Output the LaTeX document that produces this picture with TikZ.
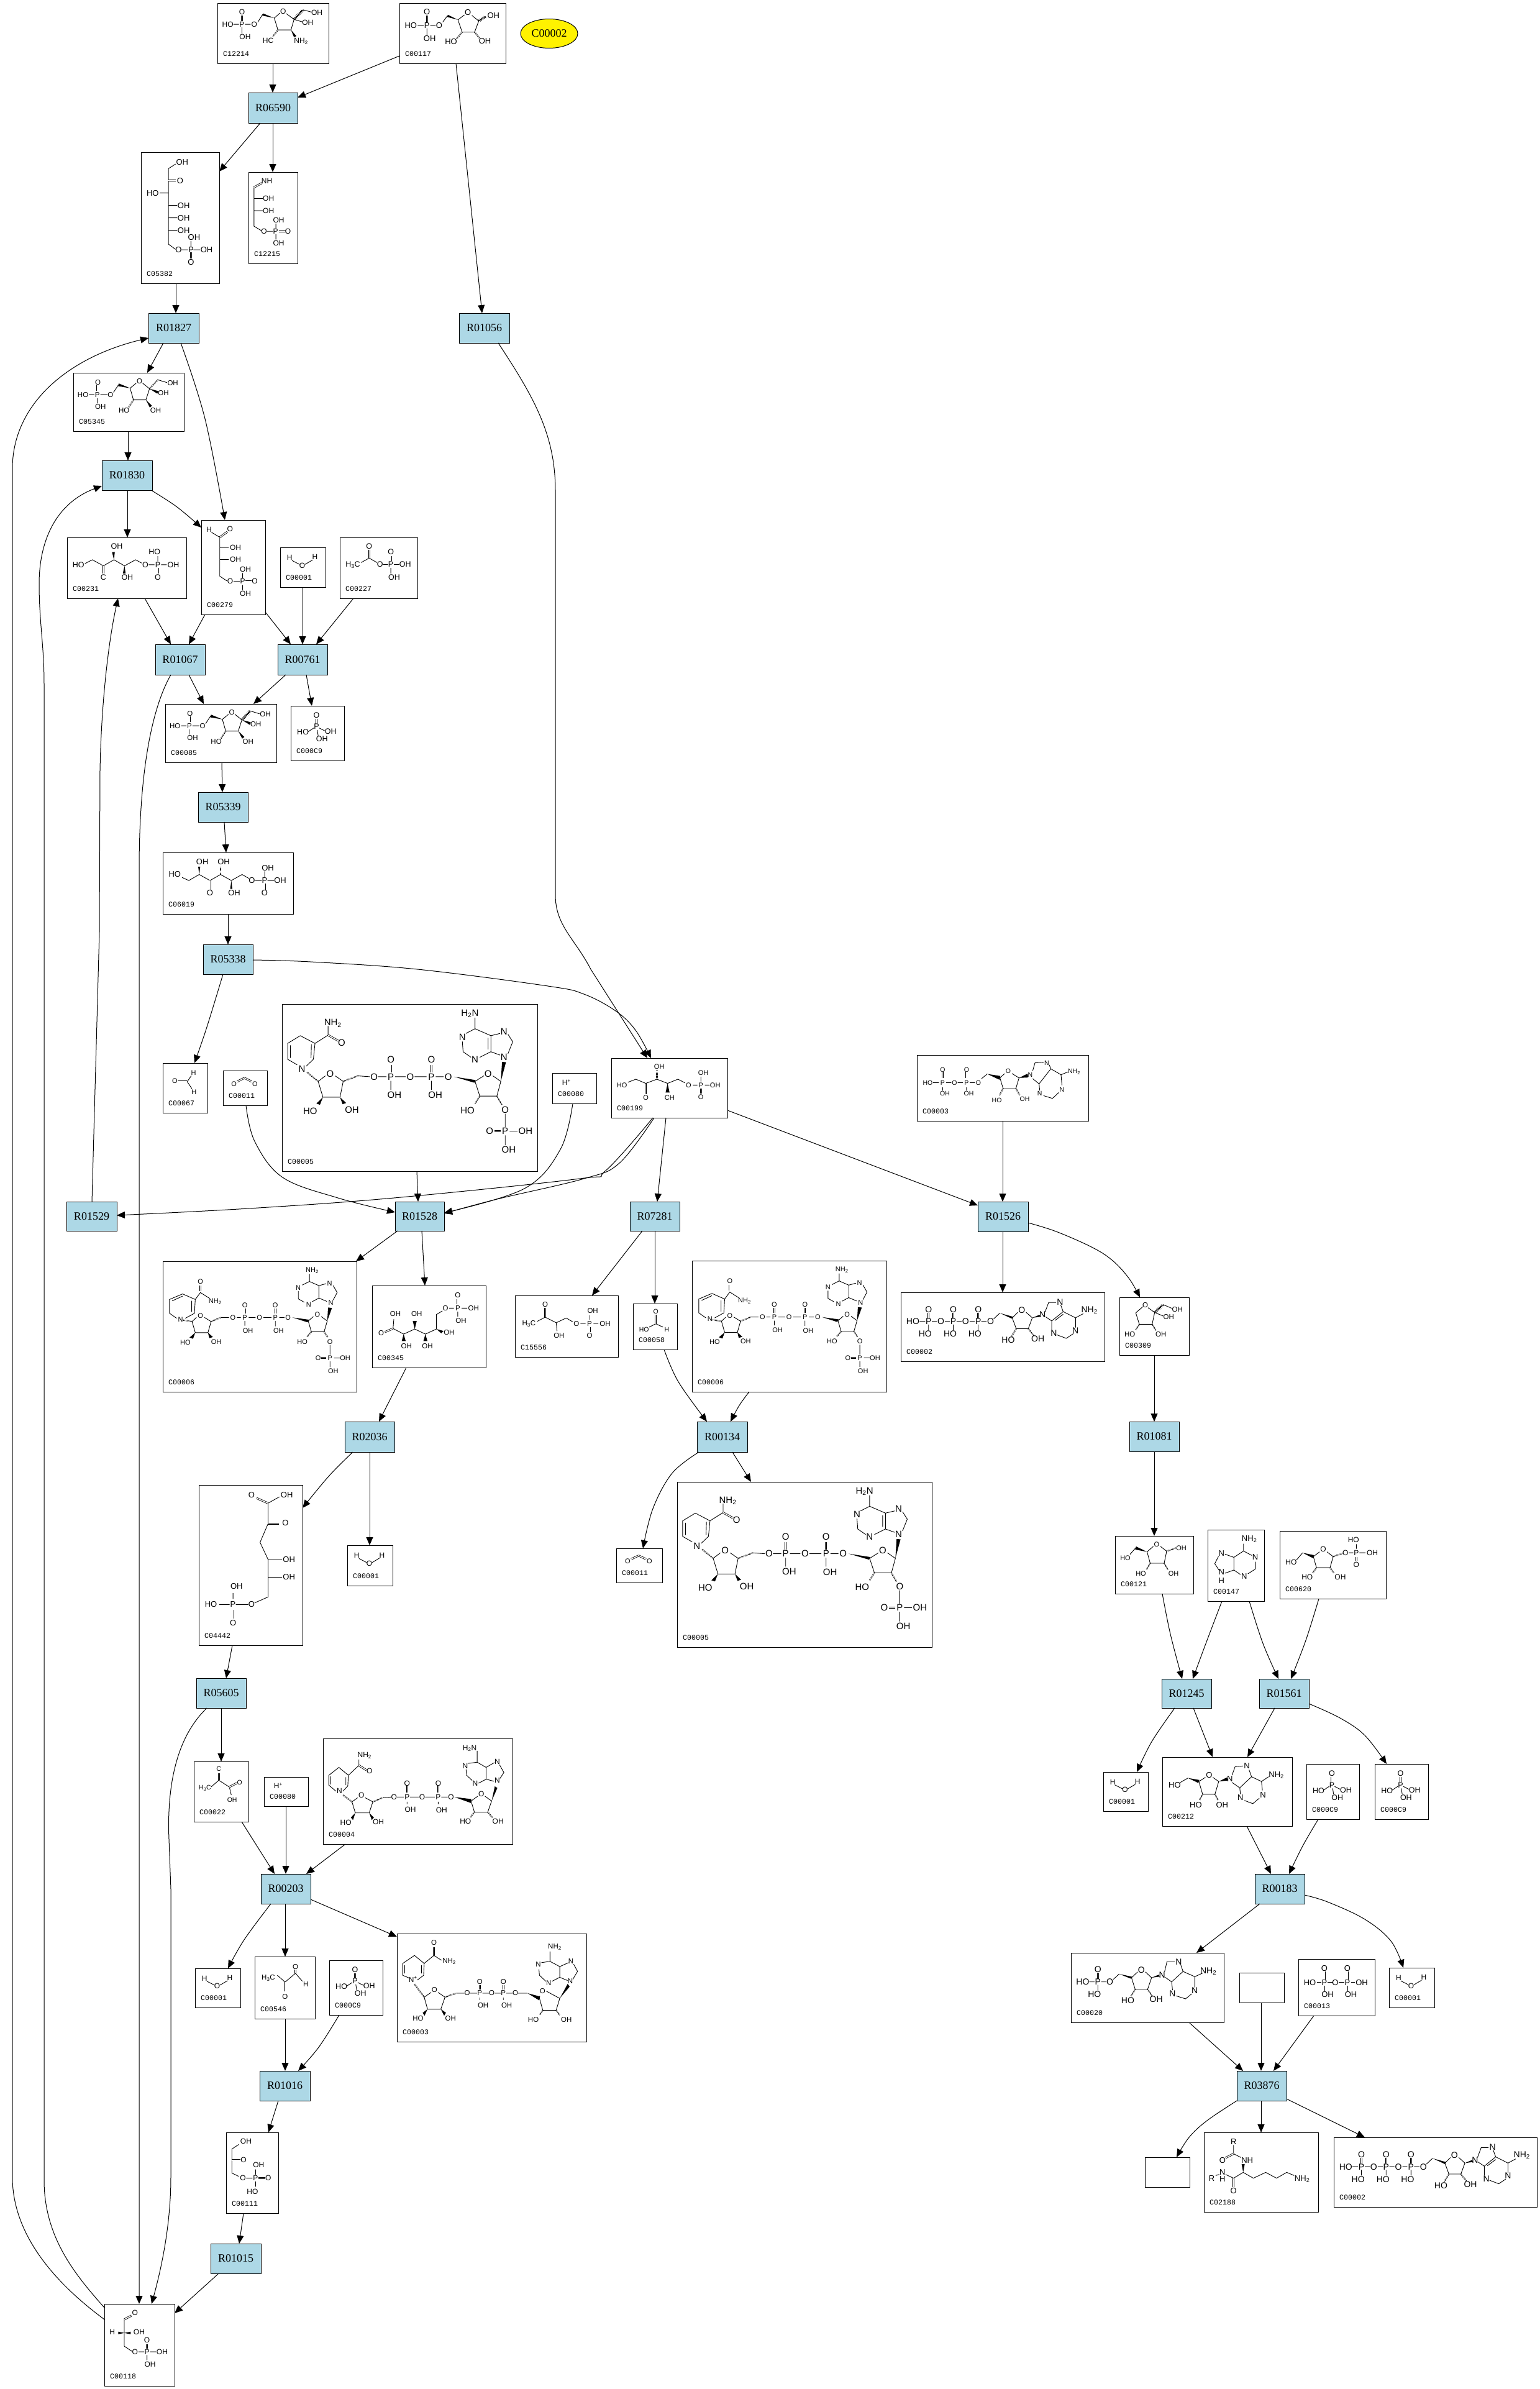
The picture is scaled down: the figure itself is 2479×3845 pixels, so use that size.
\documentclass[tikz,border=0pt]{standalone}
\usepackage{fontspec}
\setmainfont{Liberation Serif}
\newfontfamily\af{Liberation Sans}
\newfontfamily\lf{Liberation Mono}
\usetikzlibrary{arrows.meta,calc,shapes.geometric,decorations.pathmorphing}
\definecolor{lblue}{HTML}{ADD8E6}
\def\asz{12}
\newcounter{atm}
\tikzset{
 rx/.style={draw=black,fill=lblue,line width=1pt,inner sep=0pt,outer sep=0pt,font=\fontsize{18}{18}\selectfont},
 cbox/.style={draw=black,fill=white,line width=1pt,inner sep=0pt,outer sep=0pt},
 clab/.style={inner sep=0pt,font=\lf\fontsize{11.6}{12}\selectfont},
 atom/.style={inner sep=0.2pt,font=\af\fontsize{\asz}{\asz}\selectfont},
 bond/.style={line width=.9pt},
 dbond/.style={line width=.8pt,double,double distance=1.4pt},
 hashw/.style={line width=2.2pt,dash pattern=on .8pt off 1.1pt},
 wavy/.style={line width=.8pt,decorate,decoration={zigzag,segment length=2.6pt,amplitude=1.6pt}},
 edge/.style={line width=1pt,-{Triangle[length=13pt,width=11pt]}}
}
\newcommand\Rx[5]{\pgfmathsetmacro\cxx{(#2+#4)/2}\pgfmathsetmacro\cyy{(#3+#5)/2}\pgfmathsetmacro\bw{#4-#2}\pgfmathsetmacro\bh{#5-#3}\node[rx,minimum width=\bw pt,minimum height=\bh pt] (#1) at (\cxx,\cyy) {#1};}
\newcommand\Cx[6]{\pgfmathsetmacro\cxx{(#2+#4)/2}\pgfmathsetmacro\cyy{(#3+#5)/2}\pgfmathsetmacro\bw{#4-#2}\pgfmathsetmacro\bh{#5-#3}\pgfmathsetmacro\lbx{#2+9}\pgfmathsetmacro\lby{#5-15}\def\bx{#2}\def\by{#3}\node[cbox,minimum width=\bw pt,minimum height=\bh pt] (#1) at (\cxx,\cyy) {};\node[clab,anchor=west] (#1lab) at (\lbx,\lby) {#6};}
\newcommand\Z[6][12]{\def\asz{#1}\pgfmathsetmacro\sx{\bw/(#4-#2)}\pgfmathsetmacro\sy{\bh/(#5-#3)}\begin{scope}[shift={(\bx,\by)},xscale=\sx,yscale=\sy,shift={(-#2,-#3)}]#6\end{scope}}
\newcommand\At[3]{\stepcounter{atm}\node[atom] (at\theatm) at (#1,#2) {#3};}
\newcommand\Bd[1]{\draw[bond] #1;}
\newcommand\Db[4]{\draw[dbond] (#1,#2)--(#3,#4);}
\newcommand\Wg[4]{\fill ($(#1,#2)$) -- ($(#3,#4)!5pt!90:(#1,#2)$) -- ($(#3,#4)!5pt!-90:(#1,#2)$) -- cycle;}
\newcommand\Hs[4]{\draw[hashw] (#1,#2)--(#3,#4);}
\newcommand\Wv[4]{\draw[wavy] (#1,#2)--(#3,#4);}
\newcommand\Cv[1]{\draw[edge] plot[smooth,tension=.6] coordinates {#1};}
\newcommand\Sb[1]{#1\textsubscript{2}}
% shared molecules
\newcommand\WaterM{\Bd{(1053,812)--(1080,826) (1100,826)--(1127,810)}\At{1045}{802}{H}\At{1090}{830}{O}\At{1135}{800}{H}}
\newcommand\PiM{\Db{1142}{1382}{1142}{1400}\Bd{(1112,1428)--(1132,1415) (1152,1415)--(1172,1425) (1145,1422)--(1148,1442)}\At{1142}{1368}{O}\At{1142}{1410}{P}\At{1093}{1430}{HO}\At{1193}{1428}{OH}\At{1162}{1455}{OH}}
\newcommand\COO{\Db{1145}{630}{1180}{615}\Db{1180}{615}{1215}{630}\At{1129}{640}{O}\At{1231}{640}{O}}
\newcommand\HpM{\At{1116}{408}{H\textsuperscript{+}}}
\newcommand\FSP[1]{\Bd{(492,172)--(470,190)--(482,232)--(527,232)--(540,192)--(515,172) (428,178)--(410,205) (388,213)--(363,213) (341,213)--(322,213) (352,226)--(352,245) (570,160)--(603,170)}\Wg{470}{190}{428}{178}\Db{352}{200}{352}{180}#1\Wg{540}{192}{570}{205}\Hs{482}{232}{465}{258}\Wg{527}{232}{545}{256}\At{504}{165}{O}\At{399}{213}{O}\At{352}{213}{P}\At{300}{213}{HO}\At{354}{170}{O}\At{363}{257}{OH}\At{624}{171}{OH}\At{590}{207}{OH}\At{448}{270}{HO}\At{562}{270}{OH}}
\newcommand\NADPH{\Bd{(445,240)--(413,268)--(413,325)--(437,345) (445,240)--(482,268)--(478,325)--(460,350) (420,275)--(420,320) (473,272)--(472,320) (482,268)--(515,238)--(515,205) (508,385)--(490,405)--(502,462)--(545,462)--(553,405)--(533,385) (590,385)--(620,388) (641,388)--(662,388) (684,388)--(710,388) (733,388)--(763,388) (786,388)--(806,388) (673,403)--(673,435) (775,403)--(775,435) (907,385)--(885,405)--(897,458)--(940,458)--(950,405)--(930,385) (961,522)--(961,570) (972,585)--(992,585) (961,600)--(961,635) (885,175)--(885,215) (862,232)--(885,215)--(925,240)--(925,298)--(897,318) (875,318)--(855,298)--(853,260) (925,240)--(948,232) (968,235)--(980,262)--(968,305) (925,298)--(948,310) (918,248)--(918,290)}\Db{515}{238}{540}{258}\Hs{462}{372}{490}{405}\Wg{502}{462}{490}{487}\Wg{545}{462}{556}{485}\Hs{553}{405}{590}{385}\Db{673}{372}{673}{345}\Db{775}{372}{775}{345}\Wg{832}{388}{885}{405}\Hs{897}{458}{885}{485}\Hs{940}{458}{953}{490}\Db{950}{585}{934}{585}\Wg{950}{405}{958}{335}\At{527}{195}{\Sb{NH}}\At{549}{265}{O}\At{449}{360}{N}\At{520}{377}{O}\At{470}{512}{HO}\At{575}{507}{OH}\At{631}{388}{O}\At{673}{388}{P}\At{722}{388}{O}\At{775}{388}{P}\At{818}{388}{O}\At{673}{327}{O}\At{682}{453}{OH}\At{775}{327}{O}\At{785}{455}{OH}\At{918}{377}{O}\At{866}{510}{HO}\At{961}{507}{O}\At{961}{585}{P}\At{922}{585}{O}\At{1012}{585}{OH}\At{970}{652}{OH}\At{958}{317}{N}\At{872}{160}{H\textsubscript{2}N}\At{853}{245}{N}\At{885}{327}{N}\At{958}{225}{N}}
\newcommand\NADP{\Bd{(148,1170)--(115,1190)--(115,1240)--(133,1258) (148,1170)--(180,1190)--(178,1240)--(155,1258) (122,1195)--(148,1178) (171,1195)--(171,1235) (180,1190)--(193,1165)--(215,1185) (183,1255)--(172,1270)--(180,1310)--(212,1310)--(220,1270)--(203,1255) (245,1255)--(265,1255) (285,1255)--(295,1255) (315,1255)--(332,1255) (352,1255)--(372,1255) (392,1255)--(405,1255) (305,1268)--(305,1285) (382,1268)--(382,1287) (478,1252)--(465,1268)--(473,1307)--(505,1307)--(513,1268)--(498,1252) (520,1355)--(520,1390) (530,1402)--(545,1402) (520,1414)--(520,1435) (468,1098)--(468,1125) (468,1125)--(492,1140)--(492,1185)--(475,1198) (455,1200)--(440,1188)--(440,1160) (450,1138)--(468,1125) (492,1140)--(510,1133) (528,1140)--(538,1165)--(528,1192) (492,1185)--(512,1197)}\Db{193}{1160}{193}{1140}\Hs{150}{1265}{172}{1270}\Wg{180}{1310}{170}{1330}\Wg{212}{1310}{220}{1328}\Hs{220}{1270}{245}{1255}\Wg{425}{1255}{465}{1268}\Db{305}{1240}{305}{1222}\Db{382}{1240}{382}{1222}\Hs{473}{1307}{462}{1325}\Hs{505}{1307}{515}{1328}\Db{510}{1402}{498}{1402}\Wg{513}{1268}{520}{1220}\At{193}{1125}{O}\At{230}{1197}{\Sb{NH}}\At{143}{1262}{N}\At{193}{1250}{O}\At{155}{1345}{HO}\At{233}{1343}{OH}\At{275}{1255}{O}\At{305}{1255}{P}\At{342}{1255}{O}\At{382}{1255}{P}\At{414}{1255}{O}\At{305}{1210}{O}\At{313}{1302}{OH}\At{382}{1210}{O}\At{390}{1304}{OH}\At{488}{1245}{O}\At{450}{1343}{HO}\At{520}{1343}{O}\At{520}{1402}{P}\At{490}{1402}{O}\At{558}{1402}{OH}\At{528}{1450}{OH}\At{522}{1203}{N}\At{475}{1085}{\Sb{NH}}\At{466}{1208}{N}\At{440}{1147}{N}\At{519}{1132}{N}}
\newcommand\ATP{\Bd{(960,1163)--(978,1163) (1000,1163)--(1016,1163) (1042,1163)--(1058,1163) (1080,1163)--(1096,1163) (1122,1163)--(1138,1163) (1160,1163)--(1177,1163) (989,1178)--(989,1205) (1069,1178)--(1069,1205) (1150,1178)--(1150,1205) (1200,1150)--(1220,1122) (1278,1118)--(1260,1145)--(1273,1198)--(1312,1198)--(1325,1145)--(1305,1118) (1368,1140)--(1388,1160)--(1388,1205) (1405,1228)--(1435,1245)--(1458,1222) (1465,1192)--(1465,1145)--(1425,1115)--(1388,1160) (1465,1145)--(1490,1125) (1366,1118)--(1378,1070)--(1402,1070) (1417,1082)--(1425,1115) (1398,1158)--(1425,1128)}\Db{989}{1148}{989}{1120}\Db{1069}{1148}{1069}{1120}\Db{1150}{1148}{1150}{1120}\Wg{1220}{1122}{1262}{1145}\Hs{1273}{1198}{1258}{1235}\Hs{1312}{1198}{1330}{1232}\Wg{1325}{1145}{1350}{1135}\At{938}{1163}{HO}\At{989}{1163}{P}\At{1029}{1163}{O}\At{1069}{1163}{P}\At{1109}{1163}{O}\At{1150}{1163}{P}\At{1190}{1163}{O}\At{989}{1104}{O}\At{1069}{1104}{O}\At{1150}{1104}{O}\At{978}{1223}{HO}\At{1059}{1223}{HO}\At{1139}{1223}{HO}\At{1291}{1108}{O}\At{1247}{1253}{HO}\At{1343}{1248}{OH}\At{1358}{1130}{N}\At{1415}{1068}{N}\At{1465}{1207}{N}\At{1395}{1220}{N}\At{1510}{1108}{\Sb{NH}}}
\begin{document}
\begin{tikzpicture}[x=1pt,y=-1pt]
\useasboundingbox (0,0) rectangle (2479,3845);
% ---------- top
\Cx{C12214}{350}{5}{529}{102}{C12214}
\Z[12]{113}{15}{512}{285}{\Bd{(337,60)--(317,82)--(330,135)--(377,135)--(388,88)--(360,62) (275,66)--(258,100) (232,110)--(212,110) (190,110)--(170,110) (201,122)--(201,150) (420,45)--(450,55) (388,88)--(420,100)}\Wg{317}{82}{275}{66}\Db{201}{95}{201}{70}\Wv{388}{88}{420}{45}\Hs{330}{135}{312}{165}\Wg{377}{135}{392}{165}\At{349}{52}{O}\At{245}{110}{O}\At{201}{110}{P}\At{150}{110}{HO}\At{201}{55}{O}\At{212}{166}{OH}\At{470}{58}{OH}\At{437}{103}{OH}\At{295}{182}{HC}\At{413}{185}{\Sb{NH}}}
\Cx{C00117}{643}{5}{814}{102}{C00117}
\Z[13]{769}{15}{1152}{285}{\Bd{(1003,68)--(980,90)--(995,145)--(1040,145)--(1055,95)--(1030,70) (942,72)--(925,100) (900,115)--(880,115) (856,115)--(835,115) (868,128)--(868,158)}\Wg{980}{90}{942}{72}\Db{868}{100}{868}{72}\Wv{1055}{95}{1080}{75}\Hs{995}{145}{975}{175}\Hs{1040}{145}{1058}{172}\At{1016}{57}{O}\At{912}{115}{O}\At{868}{115}{P}\At{810}{115}{HO}\At{868}{55}{O}\At{878}{173}{OH}\At{1108}{70}{OH}\At{955}{188}{HO}\At{1077}{185}{OH}}
\node[draw=black,fill=yellow,ellipse,line width=1pt,inner sep=0pt,minimum width=92pt,minimum height=47pt,font=\fontsize{18}{18}\selectfont] (C00002) at (884,54) {C00002};
\Rx{R06590}{400}{149}{479}{198}
\Cx{C12215}{400}{277}{479}{424}{C12215}
\Z[12]{223}{776}{402}{1188}{\Bd{(243,845)--(243,1020)--(270,1040) (243,895)--(275,895) (243,950)--(275,950) (290,1043)--(312,1043) (323,1030)--(323,1008) (323,1056)--(323,1080)}\Db{272}{825}{243}{845}\Db{335}{1043}{358}{1043}\At{290}{815}{NH}\At{296}{895}{OH}\At{296}{950}{OH}\At{280}{1043}{O}\At{322}{1043}{P}\At{367}{1043}{O}\At{333}{992}{OH}\At{333}{1096}{OH}}
\Cx{C05382}{227}{245}{353}{456}{C05382}
\Z[13]{82}{46}{458}{679}{\Bd{(248,103)--(214,125)--(214,490)--(248,515) (172,243)--(214,243) (214,303)--(256,303) (214,363)--(256,363) (214,423)--(256,423) (276,517)--(308,517) (334,517)--(366,517) (322,505)--(322,475)}\Db{214}{183}{250}{183}\Db{322}{530}{322}{560}\At{280}{93}{OH}\At{270}{183}{O}\At{138}{243}{HO}\At{287}{303}{OH}\At{287}{363}{OH}\At{287}{423}{OH}\At{262}{517}{O}\At{322}{517}{P}\At{397}{517}{OH}\At{337}{457}{OH}\At{322}{576}{O}}
\Rx{R01827}{239}{504}{320}{552}
\Rx{R01056}{739}{504}{820}{552}
\Cx{C05345}{118}{600}{296}{694}{C05345}
\Z[11.5]{265}{135}{664}{344}{\FSP{\Hs{540}{192}{570}{160}}}
\Rx{R01830}{164}{741}{245}{789}
\Cx{C00231}{108}{865}{300}{963}{C00231}
\Z[12.5]{241}{727}{671}{948}{\Bd{(305,822)--(332,808)--(372,830)--(410,808)--(448,830)--(488,808)--(510,820) (535,826)--(556,826) (580,826)--(600,826) (568,814)--(568,795)}\Db{372}{830}{372}{858}\Wg{410}{808}{408}{780}\Wg{448}{830}{447}{858}\Db{568}{838}{568}{858}\At{282}{826}{HO}\At{372}{872}{C}\At{420}{760}{OH}\At{458}{872}{OH}\At{523}{826}{O}\At{568}{826}{P}\At{624}{826}{OH}\At{556}{780}{HO}\At{568}{872}{O}}
\Cx{C00279}{324}{837}{427}{989}{C00279}
\Z[12]{725}{666}{957}{1006}{\Bd{(762,710)--(792,728) (792,728)--(792,868)--(818,885) (792,765)--(825,765) (792,808)--(825,808) (842,887)--(865,887) (875,875)--(875,857) (875,900)--(875,918)}\Db{792}{728}{820}{708}\Db{885}{887}{908}{887}\At{753}{700}{H}\At{829}{699}{O}\At{849}{765}{OH}\At{849}{808}{OH}\At{830}{887}{O}\At{875}{887}{P}\At{919}{887}{O}\At{885}{843}{OH}\At{885}{930}{OH}}
\Cx{C00001a}{451}{881}{524}{945}{C00001}
\Z[12]{1011}{765}{1173}{908}{\WaterM}
\Cx{C00227}{547}{865}{672}{963}{C00227}
\Z[12.5]{1226}{727}{1506}{948}{\Bd{(1303,818)--(1332,802)--(1360,818) (1382,825)--(1400,825) (1421,825)--(1440,825) (1410,838)--(1410,858)}\Db{1332}{802}{1332}{773}\Db{1410}{812}{1410}{795}\At{1273}{826}{H\textsubscript{3}C}\At{1332}{758}{O}\At{1371}{825}{O}\At{1410}{825}{P}\At{1462}{825}{OH}\At{1410}{780}{O}\At{1422}{872}{OH}}
\Rx{R01067}{250}{1037}{330}{1086}
\Rx{R00761}{447}{1037}{527}{1086}
\Cx{C00085}{266}{1133}{445}{1227}{C00085}
\Z[11.5]{265}{135}{664}{344}{\FSP{\Wv{540}{192}{570}{160}}}
\Cx{C00009a}{468}{1136}{554}{1224}{C000C9}
\Z[12.5]{1049}{1335}{1242}{1532}{\PiM}
\Rx{R05339}{319}{1275}{399}{1323}
\Cx{C06019}{262}{1372}{472}{1471}{C06019}
\Z[13]{67}{397}{697}{693}{\Bd{(160,517)--(193,532)--(243,503)--(295,532)--(346,503)--(398,532)--(450,503)--(483,522) (513,532)--(545,532) (573,532)--(605,532) (559,518)--(559,488)}\Wg{243}{503}{243}{465}\Db{295}{532}{295}{575}\Hs{346}{503}{346}{465}\Wg{398}{532}{398}{572}\Db{559}{546}{559}{576}\At{125}{502}{HO}\At{258}{441}{OH}\At{295}{592}{O}\At{361}{441}{OH}\At{412}{592}{OH}\At{497}{532}{O}\At{559}{532}{P}\At{634}{532}{OH}\At{574}{471}{OH}\At{559}{592}{O}}
\Rx{R05338}{327}{1520}{407}{1568}
% ---------- middle
\Cx{C00067}{262}{1711}{334}{1791}{C00067}
\Z[11]{787}{552}{1003}{761}{\Bd{(905,630)--(925,605) (905,630)--(928,660)}\Db{860}{630}{905}{630}\At{845}{628}{O}\At{936}{592}{H}\At{938}{674}{H}}
\Cx{C00011a}{359}{1723}{430}{1779}{C00011}
\Z[11]{1075}{584}{1291}{730}{\COO}
\Cx{C00005a}{454}{1616}{865}{1885}{C00005}
\Z[15]{399}{126}{1042}{729}{\NADPH}
\Cx{C00080a}{889}{1727}{960}{1776}{C00080}
\Z[12]{1080}{375}{1192}{483}{\HpM}
\Cx{C00199}{984}{1703}{1171}{1799}{C00199}
\Z[11]{1230}{321}{1523}{536}{\Bd{(1272,408)--(1292,397)--(1317,412)--(1345,397)--(1372,412)--(1398,397)--(1416,410) (1436,418)--(1447,418) (1466,418)--(1478,418) (1456,405)--(1456,388)}\Db{1317}{412}{1317}{450}\Hs{1345}{397}{1345}{365}\Wg{1372}{412}{1372}{445}\Db{1456}{430}{1456}{448}\At{1257}{418}{HO}\At{1317}{463}{O}\At{1351}{351}{OH}\At{1377}{463}{CH}\At{1425}{418}{O}\At{1456}{418}{P}\At{1492}{418}{OH}\At{1462}{373}{OH}\At{1456}{462}{O}}
\Cx{C00003a}{1476}{1698}{1752}{1804}{C00003}
\Z[10.5]{934}{75}{1473}{242}{\Bd{(985,145)--(1003,145) (1026,145)--(1042,145) (1062,145)--(1078,145) (1100,145)--(1117,145) (1015,157)--(1015,165) (1090,157)--(1090,165) (1137,135)--(1155,123) (1210,122)--(1195,133)--(1205,160)--(1245,160)--(1255,133)--(1233,122) (1298,115)--(1305,95)--(1332,93) (1350,100)--(1355,110)--(1387,125)--(1390,152) (1355,110)--(1318,148) (1298,135)--(1318,148)--(1320,165) (1332,178)--(1360,185)--(1380,170) (1387,125)--(1408,118)}\Db{1015}{133}{1015}{118}\Db{1090}{133}{1090}{118}\Wg{1155}{123}{1195}{133}\Hs{1205}{160}{1193}{178}\Hs{1245}{160}{1258}{178}\Wg{1255}{133}{1283}{127}\At{968}{145}{HO}\At{1015}{145}{P}\At{1052}{145}{O}\At{1090}{145}{P}\At{1127}{145}{O}\At{1015}{113}{O}\At{1022}{173}{OH}\At{1090}{113}{O}\At{1097}{173}{OH}\At{1221}{115}{O}\At{1185}{190}{HO}\At{1273}{186}{OH}\At{1290}{125}{N}\At{1342}{95}{N}\At{1320}{172}{N}\At{1390}{163}{N}\At{1428}{117}{\Sb{NH}}}
\Rx{R01528}{636}{1934}{715}{1981}
\Rx{R07281}{1014}{1934}{1094}{1981}
\Rx{R01526}{1574}{1934}{1655}{1982}
\Rx{R01529}{107}{1934}{188}{1981}
\Cx{C00006a}{262}{2030}{574}{2240}{C00006}
\Z[11]{98}{1052}{587}{1524}{\NADP}
\Cx{C00345}{599}{2069}{782}{2201}{C00345}
\Z[11.5]{625}{1141}{913}{1435}{\Bd{(678,1295)--(680,1262) (678,1295)--(705,1315)--(733,1297)--(760,1315)--(788,1297)--(788,1245)--(803,1232) (820,1222)--(832,1222) (852,1222)--(866,1222) (842,1235)--(842,1252)}\Db{657}{1308}{678}{1295}\Wg{705}{1315}{705}{1340}\Wg{733}{1297}{733}{1268}\Wg{760}{1315}{760}{1340}\Wg{788}{1297}{803}{1308}\Db{842}{1208}{842}{1190}\At{648}{1312}{O}\At{684}{1243}{OH}\At{712}{1358}{OH}\At{738}{1243}{OH}\At{765}{1358}{OH}\At{820}{1310}{OH}\At{811}{1222}{O}\At{842}{1222}{P}\At{882}{1222}{OH}\At{842}{1176}{O}\At{850}{1266}{OH}}
\Cx{C15556}{829}{2085}{995}{2184}{C15556}
\Z[11.5]{986}{1177}{1246}{1398}{\Bd{(1042,1270)--(1062,1255)--(1090,1275)--(1115,1258)--(1132,1272) (1090,1275)--(1092,1305) (1151,1278)--(1164,1278) (1184,1278)--(1196,1278) (1174,1264)--(1174,1248)}\Db{1062}{1255}{1062}{1222}\Db{1174}{1290}{1174}{1308}\At{1021}{1278}{H\textsubscript{3}C}\At{1062}{1210}{O}\At{1097}{1322}{OH}\At{1141}{1278}{O}\At{1174}{1278}{P}\At{1213}{1278}{OH}\At{1182}{1232}{OH}\At{1174}{1322}{O}}
\Cx{C00058}{1019}{2098}{1090}{2172}{C00058}
\Z[10.5]{1284}{1204}{1396}{1372}{\Bd{(1342,1278)--(1325,1290) (1342,1278)--(1360,1290)}\Db{1342}{1245}{1342}{1278}\At{1342}{1233}{O}\At{1312}{1298}{HO}\At{1370}{1298}{H}}
\Cx{C00006b}{1114}{2029}{1427}{2240}{C00006}
\Z[11]{98}{1052}{587}{1524}{\NADP}
\Cx{C00002a}{1450}{2080}{1778}{2191}{C00002}
\Z[14]{899}{1021}{1559}{1357}{\ATP}
\Cx{C00309}{1802}{2088}{1914}{2181}{C00309}
\Z[11.5]{307}{565}{643}{844}{\Bd{(420,610)--(386,640)--(403,695)--(465,695)--(477,638)--(445,615) (518,600)--(560,618) (477,638)--(518,655)}\Hs{403}{695}{385}{722}\Hs{465}{695}{483}{725}\Wv{477}{638}{518}{600}\At{432}{604}{O}\At{357}{743}{HO}\At{507}{743}{OH}\At{587}{623}{OH}\At{545}{661}{OH}}
\Rx{R02036}{555}{2288}{635}{2337}
\Rx{R00134}{1122}{2288}{1203}{2337}
\Rx{R01081}{1818}{2288}{1898}{2336}
\Cx{C04442}{320}{2390}{487}{2648}{C04442}
\Z[13]{156}{62}{532}{467}{\Bd{(407,108)--(448,92) (407,108)--(407,160)--(378,207)--(407,250)--(407,345)--(358,360) (407,250)--(458,250) (407,295)--(458,295) (335,364)--(290,364) (268,364)--(230,364) (280,350)--(280,335)}\Db{365}{95}{407}{108}\Db{407}{160}{447}{160}\Db{280}{378}{280}{400}\At{347}{87}{O}\At{475}{87}{OH}\At{470}{157}{O}\At{483}{250}{OH}\At{483}{295}{OH}\At{347}{364}{O}\At{280}{364}{P}\At{200}{364}{HO}\At{293}{318}{OH}\At{280}{411}{O}}
\Cx{C00001b}{559}{2487}{632}{2552}{C00001}
\Z[12]{1011}{765}{1173}{908}{\WaterM}
\Cx{C00011b}{992}{2492}{1066}{2547}{C00011}
\Z[11]{1075}{584}{1291}{730}{\COO}
\Cx{C00005b}{1090}{2385}{1500}{2651}{C00005}
\Z[15]{399}{126}{1042}{729}{\NADPH}
\Cx{C00121}{1795}{2472}{1921}{2565}{C00121}
\Z[11]{192}{142}{444}{324}{\Bd{(315,175)--(295,192)--(305,228)--(350,228)--(358,190)--(338,175) (258,180)--(240,200)}\Wg{295}{192}{258}{180}\Hs{305}{228}{293}{248}\Hs{350}{228}{362}{248}\Hs{358}{190}{388}{180}\At{326}{168}{O}\At{225}{212}{HO}\At{275}{261}{HO}\At{380}{261}{OH}\At{405}{180}{OH}}
\Cx{C00147}{1944}{2462}{2035}{2577}{C00147}
\Z[13]{492}{121}{675}{346}{\Bd{(608,165)--(608,188)--(635,202) (646,222)--(646,245)--(622,260) (598,262)--(577,248)--(577,208)--(608,188) (577,208)--(548,198) (527,205)--(515,228)--(530,250) (577,248)--(548,258)}\At{627}{150}{\Sb{NH}}\At{646}{208}{N}\At{610}{267}{N}\At{537}{195}{N}\At{537}{255}{N}\At{537}{282}{H}}
\Cx{C00620}{2060}{2464}{2231}{2573}{C00620}
\Z[12]{724}{126}{1068}{340}{\Bd{(778,218)--(798,195) (853,192)--(833,207)--(843,242)--(887,242)--(897,207)--(877,192) (947,195)--(962,195) (982,195)--(1002,195) (972,182)--(972,168)}\Wg{798}{195}{833}{207}\Hs{843}{242}{830}{260}\Hs{887}{242}{900}{260}\Hs{897}{207}{927}{197}\Db{972}{208}{972}{220}\At{761}{224}{HO}\At{865}{183}{O}\At{813}{272}{HO}\At{920}{272}{OH}\At{937}{195}{O}\At{972}{195}{P}\At{1024}{195}{OH}\At{963}{155}{HO}\At{972}{232}{O}}
% ---------- lower left
\Rx{R05605}{316}{2701}{396}{2749}
\Cx{C00022}{312}{2835}{400}{2932}{C00022}
\Z[10.5]{140}{761}{337}{912}{\Bd{(202,825)--(230,808)--(268,825)--(275,845)}\Db{230}{808}{230}{790}\Db{268}{825}{295}{815}\At{180}{828}{H\textsubscript{3}C}\At{230}{780}{C}\At{305}{813}{O}\At{278}{858}{OH}}
\Cx{C00080b}{425}{2860}{496}{2907}{C00080}
\Z[12]{1080}{375}{1192}{483}{\HpM}
\Cx{C00004}{520}{2798}{825}{2968}{C00004}
\Z[12]{606}{702}{1287}{969}{\Bd{(663,775)--(627,795)--(627,820)--(652,835) (663,775)--(697,795)--(695,822)--(678,835) (634,798)--(634,818) (688,800)--(688,820) (697,795)--(735,770)--(735,755) (730,852)--(710,862)--(722,890)--(772,890)--(785,862)--(758,852) (820,852)--(850,850) (872,850)--(897,850) (919,850)--(950,850) (973,850)--(1008,850) (1031,850)--(1054,850) (908,862)--(908,868) (1020,862)--(1020,868) (1162,848)--(1138,860)--(1150,888)--(1198,888)--(1212,860)--(1188,848) (1160,733)--(1160,762)--(1192,775)--(1192,805)--(1165,815) (1142,808)--(1122,795)--(1120,780) (1127,765)--(1160,762) (1192,775)--(1222,763) (1240,768)--(1256,788)--(1242,803) (1192,805)--(1220,810)}\Db{735}{770}{762}{782}\Hs{678}{845}{710}{862}\Wg{722}{890}{710}{905}\Wg{772}{890}{785}{905}\Hs{785}{862}{820}{852}\Db{908}{838}{908}{822}\Db{1020}{838}{1020}{822}\Wg{1078}{850}{1138}{860}\Hs{1150}{888}{1135}{902}\Hs{1198}{888}{1215}{902}\Wg{1212}{860}{1228}{825}\At{755}{745}{\Sb{NH}}\At{773}{784}{O}\At{665}{835}{N}\At{744}{845}{O}\At{688}{915}{HO}\At{805}{913}{OH}\At{861}{850}{O}\At{908}{850}{P}\At{962}{850}{O}\At{1020}{850}{P}\At{1066}{850}{O}\At{908}{815}{O}\At{920}{882}{OH}\At{1020}{815}{O}\At{1032}{883}{OH}\At{1175}{842}{O}\At{1118}{912}{HO}\At{1235}{912}{OH}\At{1232}{808}{N}\At{1133}{727}{H\textsubscript{2}N}\At{1153}{815}{N}\At{1117}{771}{N}\At{1232}{760}{N}}
\Rx{R00203}{420}{3016}{500}{3064}
\Cx{C00001e}{314}{3168}{387}{3231}{C00001}
\Z[12]{1011}{765}{1173}{908}{\WaterM}
\Cx{C00546}{410}{3149}{507}{3249}{C00546}
\Z[11.5]{359}{1253}{575}{1409}{\Bd{(440,1300)--(468,1317)--(505,1295)--(530,1315)}\Db{468}{1317}{468}{1340}\Db{505}{1295}{505}{1285}\At{408}{1307}{H\textsubscript{3}C}\At{468}{1353}{O}\At{505}{1278}{O}\At{542}{1322}{H}}
\Cx{C00009b}{530}{3155}{616}{3243}{C000C9}
\Z[12.5]{1049}{1335}{1242}{1532}{\PiM}
\Cx{C00003b}{639}{3112}{944}{3286}{C00003}
\Z[11.5]{872}{1195}{1554}{1467}{\Bd{(935,1250)--(893,1270)--(893,1300)--(920,1308) (935,1250)--(970,1270)--(968,1300)--(945,1312) (900,1275)--(900,1295) (960,1275)--(960,1295) (970,1270)--(1005,1250)--(1032,1262) (995,1343)--(970,1355)--(982,1385)--(1030,1385)--(1045,1355)--(1020,1343) (1085,1345)--(1115,1345) (1136,1345)--(1160,1345) (1180,1345)--(1203,1345) (1224,1345)--(1245,1345) (1265,1345)--(1288,1345) (1308,1345)--(1342,1345) (1170,1356)--(1170,1362) (1255,1356)--(1255,1362) (1386,1352)--(1385,1358)--(1397,1388)--(1445,1388)--(1458,1358)--(1410,1340) (1423,1240)--(1423,1265)--(1458,1278)--(1458,1305)--(1430,1315) (1408,1315)--(1385,1300)--(1383,1285) (1392,1268)--(1423,1265) (1458,1278)--(1490,1268) (1508,1272)--(1522,1290)--(1505,1310) (1458,1305)--(1486,1313)}\Db{1005}{1250}{1005}{1230}\Hs{935}{1322}{970}{1355}\Wg{982}{1385}{968}{1398}\Wg{1030}{1385}{1045}{1398}\Hs{1045}{1355}{1085}{1345}\Wg{1342}{1345}{1385}{1358}\Db{1170}{1335}{1170}{1325}\Db{1255}{1335}{1255}{1325}\Hs{1397}{1388}{1385}{1400}\Hs{1445}{1388}{1458}{1400}\Wg{1458}{1358}{1490}{1325}\At{930}{1310}{N\textsuperscript{+}}\At{1005}{1218}{O}\At{1060}{1265}{\Sb{NH}}\At{1007}{1337}{O}\At{948}{1408}{HO}\At{1065}{1408}{OH}\At{1125}{1345}{O}\At{1170}{1345}{P}\At{1213}{1345}{O}\At{1255}{1345}{P}\At{1298}{1345}{O}\At{1170}{1316}{O}\At{1182}{1375}{OH}\At{1255}{1316}{O}\At{1267}{1375}{OH}\At{1396}{1340}{O}\At{1363}{1412}{HO}\At{1482}{1411}{OH}\At{1496}{1315}{N}\At{1440}{1228}{\Sb{NH}}\At{1418}{1320}{N}\At{1381}{1273}{N}\At{1498}{1264}{N}}
\Rx{R01016}{418}{3333}{499}{3381}
\Cx{C00111}{364}{3432}{448}{3562}{C00111}
\Z[12]{952}{563}{1170}{879}{\Bd{(1005,610)--(976,628)--(976,722)--(1005,735) (1036,742)--(1062,742) (1075,728)--(1075,708) (1075,755)--(1075,775)}\Db{976}{672}{1012}{672}\Db{1088}{742}{1115}{742}\At{1035}{598}{OH}\At{1025}{671}{O}\At{1022}{742}{O}\At{1075}{742}{P}\At{1128}{742}{O}\At{1088}{690}{OH}\At{1062}{794}{HO}}
\Rx{R01015}{339}{3611}{420}{3659}
\Cx{C00118}{168}{3708}{281}{3840}{C00118}
\Z[12]{440}{1234}{733}{1556}{\Bd{(523,1295)--(523,1400)--(555,1420) (582,1422)--(606,1422) (630,1422)--(655,1422) (618,1435)--(618,1455)}\Db{523}{1295}{553}{1280}\Wg{523}{1348}{498}{1348}\Wg{523}{1348}{550}{1348}\Db{618}{1410}{618}{1392}\At{568}{1270}{O}\At{473}{1345}{H}\At{585}{1345}{OH}\At{568}{1422}{O}\At{618}{1422}{P}\At{681}{1422}{OH}\At{618}{1377}{O}\At{631}{1471}{OH}}
% ---------- lower right
\Rx{R01245}{1870}{2702}{1950}{2749}
\Rx{R01561}{2027}{2702}{2107}{2749}
\Cx{C00001c}{1776}{2852}{1848}{2915}{C00001}
\Z[12]{1011}{765}{1173}{908}{\WaterM}
\Cx{C00212}{1871}{2828}{2080}{2939}{C00212}
\Z[13]{345}{838}{764}{1056}{\Bd{(403,918)--(428,904) (484,902)--(463,915)--(475,955)--(515,955)--(527,915)--(508,902) (570,895)--(580,868)--(605,866) (625,878)--(633,900)--(595,935) (570,918)--(595,935)--(597,955) (610,975)--(637,985)--(658,968) (668,943)--(665,915)--(633,900) (665,915)--(688,900)}\Wg{428}{904}{463}{915}\Hs{475}{955}{465}{975}\Hs{515}{955}{525}{975}\Wg{527}{915}{555}{907}\At{385}{927}{HO}\At{496}{895}{O}\At{453}{990}{HO}\At{538}{990}{OH}\At{563}{907}{N}\At{618}{866}{N}\At{597}{966}{N}\At{670}{957}{N}\At{713}{895}{\Sb{NH}}}
\Cx{C00009c}{2103}{2839}{2188}{2928}{C000C9}
\Z[12.5]{1049}{1335}{1242}{1532}{\PiM}
\Cx{C00009d}{2213}{2839}{2299}{2928}{C000C9}
\Z[12.5]{1049}{1335}{1242}{1532}{\PiM}
\Rx{R00183}{2020}{3016}{2100}{3064}
\Cx{C00020}{1724}{3143}{1970}{3255}{C00020}
\Z[14]{49}{130}{544}{466}{\Bd{(108,270)--(125,270) (147,270)--(163,270) (136,285)--(136,312) (186,258)--(205,232) (265,222)--(245,250)--(257,307)--(297,307)--(310,250)--(290,222) (352,222)--(360,172)--(385,172) (405,190)--(412,220)--(375,270) (354,248)--(375,270)--(378,310) (390,338)--(420,352)--(440,328) (450,297)--(450,245)--(412,220) (450,245)--(475,228)}\Db{136}{255}{136}{225}\Wg{205}{232}{245}{250}\Hs{257}{307}{243}{340}\Hs{297}{307}{312}{338}\Wg{310}{250}{335}{240}\At{87}{270}{HO}\At{136}{270}{P}\At{175}{270}{O}\At{136}{210}{O}\At{125}{330}{HO}\At{277}{213}{O}\At{233}{360}{HO}\At{325}{354}{OH}\At{344}{236}{N}\At{398}{175}{N}\At{378}{328}{N}\At{450}{313}{N}\At{494}{218}{\Sb{NH}}}
\node[cbox,minimum width=72pt,minimum height=48pt] (blankA) at (2031,3199) {};
\Cx{C00013}{2090}{3153}{2213}{3244}{C00013}
\Z[13]{786}{160}{1032}{433}{\Bd{(845,273)--(860,273) (880,273)--(895,273) (915,273)--(933,273) (955,273)--(968,273) (870,288)--(870,312) (944,288)--(944,312)}\Db{870}{258}{870}{220}\Db{944}{258}{944}{220}\At{823}{273}{HO}\At{870}{273}{P}\At{905}{273}{O}\At{944}{273}{P}\At{990}{273}{OH}\At{870}{205}{O}\At{944}{205}{O}\At{880}{330}{OH}\At{955}{330}{OH}}
\Cx{C00001d}{2236}{3167}{2309}{3231}{C00001}
\Z[12]{1011}{765}{1173}{908}{\WaterM}
\Rx{R03876}{1991}{3333}{2071}{3381}
\node[cbox,minimum width=72pt,minimum height=48pt] (blankB) at (1879,3496) {};
\Cx{C02188}{1938}{3432}{2122}{3560}{C02188}
\Z[13]{480}{997}{850}{1381}{\Bd{(576,1058)--(576,1100)--(600,1118) (607,1190)--(640,1218)--(680,1190)--(715,1218)--(748,1190)--(772,1205) (607,1190)--(576,1218)--(550,1200) (518,1205)--(530,1200)}\Db{576}{1100}{550}{1120}\Wg{607}{1190}{607}{1150}\Db{576}{1218}{576}{1262}\At{576}{1043}{R}\At{540}{1132}{O}\At{620}{1132}{NH}\At{798}{1222}{\Sb{NH}}\At{576}{1278}{O}\At{540}{1190}{N}\At{540}{1222}{H}\At{505}{1218}{R}}
\Cx{C00002b}{2147}{3440}{2474}{3552}{C00002}
\Z[14]{899}{1021}{1559}{1357}{\ATP}
% ---------- connectors
\draw[edge] (439,0|-C12214.south) -- (439,0|-R06590.north);
\draw[edge] (C00117.west|-0,90) -- (R06590.east|-0,157);
\draw[edge] (734,0|-C00117.south) -- (776,0|-R01056.north);
\draw[edge] (419,0|-R06590.south) -- (C05382.east|-0,276);
\draw[edge] (439,0|-R06590.south) -- (439,0|-C12215.north);
\draw[edge] (283,0|-C05382.south) -- (283,0|-R01827.north);
\draw[edge] (263,0|-R01827.south) -- (237,0|-C05345.north);
\Cv{(291,0|-R01827.south) (330,674) (362,0|-C00279.north)}
\draw[edge] (206,0|-C05345.south) -- (206,0|-R01830.north);
\draw[edge] (205,0|-R01830.south) -- (205,0|-C00231.north);
\Cv{(R01830.east|-0,790) (285,816) (C00279.west|-0,849)}
\draw[edge] (233,0|-C00231.south) -- (275,0|-R01067.north);
\draw[edge] (330,0|-C00279.south) -- (304,0|-R01067.north);
\draw[edge] (C00279.east|-0,985) -- (468,0|-R00761.north);
\draw[edge] (487,0|-C00001a.south) -- (487,0|-R00761.north);
\draw[edge] (569,0|-C00227.south) -- (509,0|-R00761.north);
\draw[edge] (304,0|-R01067.south) -- (328,0|-C00085.north);
\draw[edge] (460,0|-R00761.south) -- (408,0|-C00085.north);
\draw[edge] (493,0|-R00761.south) -- (502,0|-C00009a.north);
\draw[edge] (275,0|-R01067.south) .. controls (250,1130) and (224,1220) .. (224,1400) -- (224,0|-C00118.north);
\draw[edge] (333,0|-R05605.south) .. controls (290,2790) and (268,2860) .. (272,2960) -- (275,3040) -- (275,3504) .. controls (275,3580) and (260,3650) .. (244,0|-C00118.north);
\draw[edge] (C00118.west|-0,3733) .. controls (110,3690) and (20,3610) .. (20,3504) -- (20,754) .. controls (20,650) and (110,575) .. (R01827.west|-0,544);
\draw[edge] (C00118.west|-0,3714) .. controls (120,3660) and (71,3600) .. (71,3509) -- (71,1100) .. controls (71,1040) and (63,1000) .. (63,940) .. controls (63,870) and (90,810) .. (R01830.west|-0,782);
\draw[edge] (148,0|-R01529.north) -- (160,1500) -- (161,1240) .. controls (163,1130) and (175,1030) .. (190,0|-C00231.south);
\draw[edge] (357,0|-C00085.south) -- (358,0|-R05339.north);
\draw[edge] (361,0|-R05339.south) -- (364,0|-C06019.north);
\draw[edge] (367,0|-C06019.south) -- (367,0|-R05338.north);
\Cv{(R05338.east|-0,1545) (500,1548) (672,1560) (882,1587) (940,1600) (991,1627) (1023,1658) (1048,0|-C00199.north)}
\draw[edge] (802,0|-R01056.south) .. controls (860,640) and (894,700) .. (894,790) -- (894,1440) .. controls (894,1490) and (925,1510) .. (951,1560) -- (1042,0|-C00199.north);
\Cv{(1053,0|-C00199.south) (997,1872) (940,1897) (800,1930) (R01528.east|-0,1953)}
\Cv{(1051,0|-C00199.south) (975,1884) (933,1897) (634,1928) (400,1945) (R01529.east|-0,1956)}
\draw[edge] (1072,0|-C00199.south) -- (1058,0|-R07281.north);
\draw[edge] (C00199.east|-0,1787) -- (R01526.west|-0,1940);
\Cv{(396,0|-C00011a.south) (410,1837) (455,1895) (544,1928) (R01528.west|-0,1951)}
\draw[edge] (671,0|-C00005a.south) -- (673,0|-R01528.north);
\Cv{(922,0|-C00080a.south) (902,1850) (844,1913) (R01528.east|-0,1952)}
\Cv{(359,0|-R05338.south) (333,1653) (313,0|-C00067.north)}
\draw[edge] (640,0|-R01528.south) -- (573,0|-C00006a.north);
\draw[edge] (679,0|-R01528.south) -- (684,0|-C00345.north);
\draw[edge] (654,0|-C00345.south) -- (610,0|-R02036.north);
\Cv{(568,0|-R02036.south) (530,2375) (C04442.east|-0,2427)}
\draw[edge] (595,0|-R02036.south) -- (595,0|-C00001b.north);
\draw[edge] (374,0|-C04442.south) -- (364,0|-R05605.north);
\draw[edge] (356,0|-R05605.south) -- (356,0|-C00022.north);
\draw[edge] (389,0|-C00022.south) -- (442,0|-R00203.north);
\draw[edge] (460,0|-C00080b.south) -- (460,0|-R00203.north);
\draw[edge] (556,0|-C00004.south) -- (493,0|-R00203.north);
\Cv{(436,0|-R00203.south) (393,3122) (367,0|-C00001e.north)}
\draw[edge] (459,0|-R00203.south) -- (459,0|-C00546.north);
\draw[edge] (R00203.east|-0,3057) -- (C00003b.west|-0,3117);
\draw[edge] (459,0|-C00546.south) -- (459,0|-R01016.north);
\Cv{(546,0|-C00009b.south) (513,3295) (480,0|-R01016.north)}
\draw[edge] (448,0|-R01016.south) -- (432,0|-C00111.north);
\draw[edge] (392,0|-C00111.south) -- (385,0|-R01015.north);
\draw[edge] (352,0|-R01015.south) -- (C00118.east|-0,3723);
\draw[edge] (1034,0|-R07281.south) -- (953,0|-C15556.north);
\draw[edge] (1054,0|-R07281.south) -- (1054,0|-C00058.north);
\Cv{(1069,0|-C00058.south) (1092,2224) (1138,0|-R00134.north)}
\Cv{(1206,0|-C00006b.south) (1190,2262) (1176,0|-R00134.north)}
\Cv{(1125,0|-R00134.south) (1082,2371) (1051,2428) (1035,0|-C00011b.north)}
\draw[edge] (1179,0|-R00134.south) -- (1209,0|-C00005b.north);
\draw[edge] (1614,0|-C00003a.south) -- (1614,0|-R01526.north);
\draw[edge] (1614,0|-R01526.south) -- (1614,0|-C00002a.north);
\Cv{(R01526.east|-0,1968) (1700,1982) (1757,2007) (1790,2028) (1817,2057) (1835,0|-C00309.north)}
\draw[edge] (1858,0|-C00309.south) -- (1858,0|-R01081.north);
\draw[edge] (1858,0|-R01081.south) -- (1858,0|-C00121.north);
\Cv{(1871,0|-C00121.south) (1884,2630) (1903,0|-R01245.north)}
\Cv{(1967,0|-C00147.south) (1943,2640) (1920,0|-R01245.north)}
\Cv{(2011,0|-C00147.south) (2033,2645) (2058,0|-R01561.north)}
\Cv{(2123,0|-C00620.south) (2102,2640) (2078,0|-R01561.north)}
\Cv{(1891,0|-R01245.south) (1854,2803) (1830,0|-C00001c.north)}
\draw[edge] (1921,0|-R01245.south) -- (1952,0|-C00212.north);
\draw[edge] (2052,0|-R01561.south) -- (2008,0|-C00212.north);
\Cv{(R01561.east|-0,2742) (2157,2765) (2197,2793) (2232,0|-C00009d.north)}
\draw[edge] (2007,0|-C00212.south) -- (2046,0|-R00183.north);
\Cv{(2122,0|-C00009c.south) (2097,2971) (2075,0|-R00183.north)}
\draw[edge] (2028,0|-R00183.south) -- (1926,0|-C00020.north);
\Cv{(R00183.east|-0,3050) (2137,3061) (2197,3089) (2239,3124) (2259,0|-C00001d.north)}
\draw[edge] (1914,0|-C00020.south) -- (2001,0|-R03876.north);
\draw[edge] (2030,0|-blankA.south) -- (2030,0|-R03876.north);
\draw[edge] (2115,0|-C00013.south) -- (2050,0|-R03876.north);
\Cv{(1991,0|-R03876.south) (1943,3413) (1914,3440) (1894,0|-blankB.north)}
\draw[edge] (2030,0|-R03876.south) -- (2030,0|-C02188.north);
\draw[edge] (R03876.east|-0,3378) -- (2197,0|-C00002b.north);
\end{tikzpicture}
\end{document}
